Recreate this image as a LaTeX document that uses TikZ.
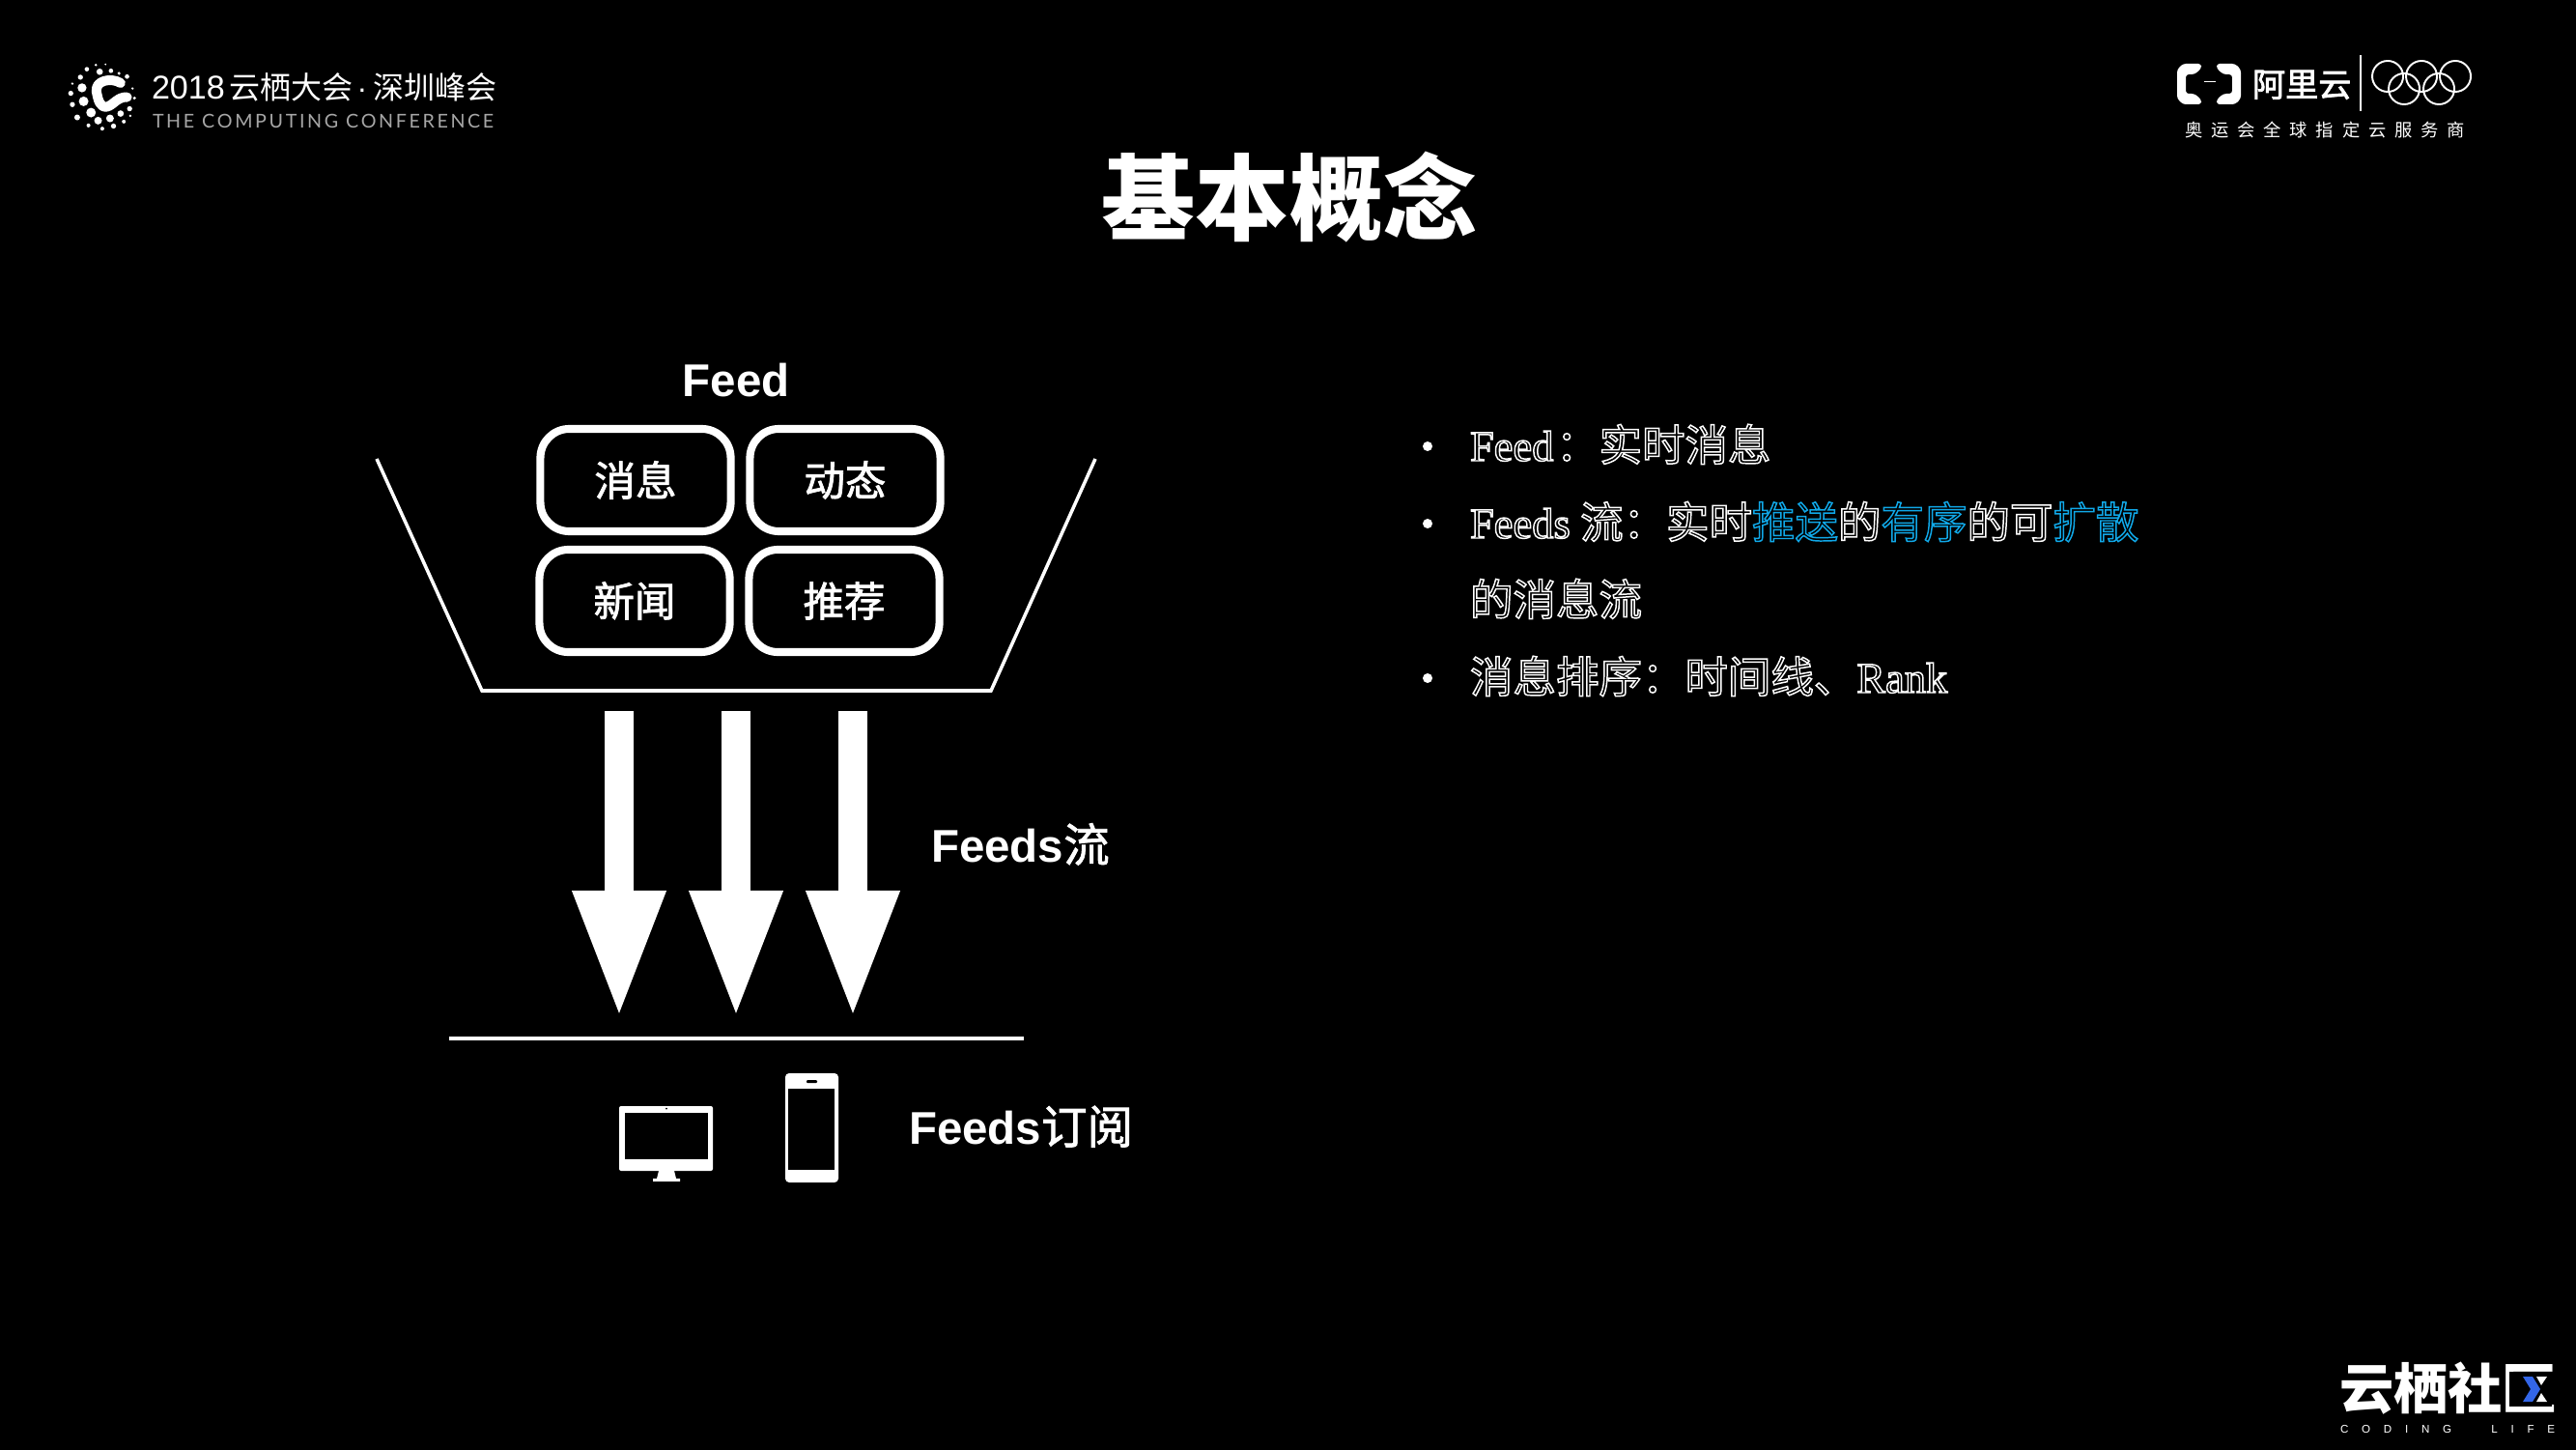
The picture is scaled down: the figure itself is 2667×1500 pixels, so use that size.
\documentclass[tikz,border=0pt]{standalone}
\usepackage{fontspec}
\usepackage{xcolor}
\usetikzlibrary{arrows.meta}
\setmainfont{Liberation Sans}
\newfontfamily\cjk{Noto Sans CJK SC}
\newfontfamily\serifl{Liberation Serif}
\newfontfamily\latol{Lato}
\definecolor{hl}{HTML}{10A8E8}
\definecolor{zblue}{HTML}{3366E8}
\newcommand\fs[1]{\fontsize{#1}{#1}\selectfont}
\newcommand\hollow{\special{pdf:code 1 Tr 0.42 w}}
\newcommand\heavy{\special{pdf:code 2 Tr 0.22 w}}
\newcommand\solid{\special{pdf:code 0 Tr 1 w}}
\tikzset{
  px/.style={x=0.01cm,y=-0.01cm},
  txt/.style={text=white,inner sep=0pt,outer sep=0pt},
  feedbox/.style={draw=white,line width=2.3pt,rounded corners=0.30cm,minimum width=1.97cm,minimum height=1.06cm,inner sep=0pt,text=white,font=\cjk\fs{12.1pt}},
  funnelline/.style={draw=white,line width=1pt},
  flow/.style={draw=white,line width=0.30cm,-{Triangle[length=1.33cm,width=0.88cm]}},
  bodyline/.style={txt,anchor=base west,font=\fs{12.65pt}},
  bul/.style={circle,fill=white,inner sep=0pt,minimum size=0.10cm},
  label/.style={txt,anchor=base west,font=\fs{13.5pt}\bfseries},
  ring/.style={draw=white,line width=0.55pt},
}
\begin{document}
\begin{tikzpicture}[px]
\useasboundingbox (0,0) rectangle (2667,1500);
\fill[black] (-20,-20) rectangle (2687,1520);

% conference logo
\begin{scope}[shift={(40,40)},x=0.00333cm,y=-0.00333cm]
\foreach \x/\y/\r in {150/95/7,190/103/10,225/100/7,250/108/5,275/118/7,178/82/4,208/80/3,130/120/8,105/140/4,135/153/14,100/170/8,140/195/15,105/205/8,120/245/9,163/230/15,155/270/6,185/255/12,222/248/12,198/280/6,233/272/8,255/233/10,265/258/6,283/218/8,285/240/4,298/185/5,292/155/4}
  \fill[white] (\x,\y) circle[radius=\r];
\draw[white,line width=0.10cm,line cap=round,line join=round] (255,138) .. controls (225,120) and (175,130) .. (180,165) .. controls (185,190) and (190,215) .. (212,212) .. controls (232,208) and (245,180) .. (275,182);
\end{scope}
\node[txt,anchor=base west,font=\fs{9.7pt}] (yr) at (157,103) {2018};
\node[txt,anchor=base west,font=\cjk\fs{9.1pt}] (conf) at (237,103) {云栖大会};
\node[txt,anchor=base,font=\fs{9.1pt}] (dot) at (375,103) {·};
\node[txt,anchor=base west,font=\cjk\fs{9.1pt}] (city) at (386,103) {深圳峰会};
\node[txt,anchor=base west,text=white!65!black,font=\latol\fs{5.6pt}] (eng) at (158,133) {\makebox[3.53cm][s]{T\hfill H\hfill E\hfill\hfill\hfill C\hfill O\hfill M\hfill P\hfill U\hfill T\hfill I\hfill N\hfill G\hfill\hfill\hfill C\hfill O\hfill N\hfill F\hfill E\hfill R\hfill E\hfill N\hfill C\hfill E}};

% aliyun logo
\fill[white,rounded corners=0.03cm] (2279,66) -- (2260,66) -- (2254,72) -- (2254,102) -- (2260,108) -- (2279,108) -- (2279,103) -- (2272,97) -- (2263,97) -- (2263,77) -- (2272,77) -- (2279,71) -- cycle;
\fill[white,rounded corners=0.03cm] (2295,66) -- (2314,66) -- (2320,72) -- (2320,102) -- (2314,108) -- (2295,108) -- (2295,103) -- (2302,97) -- (2311,97) -- (2311,77) -- (2302,77) -- (2295,71) -- cycle;
\fill[white] (2282,84.5) rectangle (2294,85.5);
\node[txt,anchor=base west,font=\cjk\fs{9.7pt}] (aly) at (2332,100) {\heavy 阿里云\solid};
\coordinate (dva) at (2444,57);
\coordinate (dvb) at (2444,115);
\draw[white,line width=0.4pt] (dva) -- (dvb);
\foreach \x/\y in {2472/79,2507/79,2542/79,2489/92,2525/92}
  \draw[ring] (\x,\y) circle[radius=16];
\node[txt,anchor=base west,font=\cjk\fs{5.2pt}] (spons) at (2262,142) {\makebox[2.90cm][s]{奥\hfill 运\hfill 会\hfill 全\hfill 球\hfill 指\hfill 定\hfill 云\hfill 服\hfill 务\hfill 商}};

% title
\node[txt,font=\cjk\fs{27.6pt}\bfseries] (title) at (1335,204) {基本概念};

% feed diagram
\node[label,anchor=base] (feed) at (762,410) {Feed};
\node[feedbox] (msg) at (658,497) {\heavy 消息\solid};
\node[feedbox] (dyn) at (875,497) {\heavy 动态\solid};
\node[feedbox] (news) at (657,622) {\heavy 新闻\solid};
\node[feedbox] (rec) at (874,622) {\heavy 推荐\solid};
\coordinate (fa) at (390,475);
\coordinate (fb) at (499,715);
\coordinate (fc) at (1026,715);
\coordinate (fd) at (1134,475);
\draw[funnelline] (fa) -- (fb) -- (fc) -- (fd);
\foreach \n/\x in {1/641,2/762,3/883}{
  \coordinate (s\n) at (\x,736);
  \coordinate (e\n) at (\x,1055);
  \draw[flow] (s\n) -- (e\n);
}
\coordinate (la) at (465,1075);
\coordinate (lb) at (1060,1075);
\draw[funnelline] (la) -- (lb);
\node[label] (flowlabel) at (964,892) {Feeds{\mdseries\cjk\heavy 流\solid}};
\node[label] (sublabel) at (941,1184) {Feeds{\mdseries\cjk\heavy 订阅\solid}};

% monitor
\fill[white,rounded corners=0.02cm] (641,1145) rectangle (738,1212);
\fill[black] (647,1152) rectangle (733,1200);
\fill[black] (690,1147.5) circle[radius=1];
\fill[white] (682,1212) -- (698,1212) -- (700,1220) -- (704,1220) -- (704,1223) -- (676,1223) -- (676,1220) -- (680,1220) -- cycle;
% phone
\fill[white,rounded corners=0.04cm] (813,1111) rectangle (868,1224);
\fill[black] (816,1127) rectangle (864,1211);
\fill[black,rounded corners=0.01cm] (835,1118) rectangle (846,1121);

% bullets
\node[bul] (b1) at (1478,462) {};
\node[bul] (b2) at (1478,542) {};
\node[bul] (b3) at (1478,702) {};
\node[bodyline] (l1) at (1522,477) {\hollow\makebox[0.89cm][l]{\serifl Feed}\cjk ：实时消息\solid};
\node[bodyline] (l2) at (1522,557) {\hollow\makebox[1.14cm][l]{\serifl Feeds}\cjk 流：实时{\color{hl}推送}的{\color{hl}有序}的可{\color{hl}扩散}\solid};
\node[bodyline] (l3) at (1522,637) {\hollow\cjk 的消息流\solid};
\node[bodyline] (l4) at (1522,717) {\hollow\cjk 消息排序：时间线、\serifl Rank\solid};

% community logo
\node[txt,anchor=base west,font=\cjk\fs{16pt}\bfseries] (comm) at (2422,1458) {云栖社区};
\fill[black] (2598,1420) rectangle (2642,1456);
\fill[zblue] (2612,1425) -- (2622,1425) -- (2630,1438) -- (2622,1451) -- (2612,1451) -- (2620,1438) -- cycle;
\fill[white] (2626,1425) -- (2637,1425) -- (2631,1434) -- cycle;
\fill[white] (2631,1442) -- (2637,1451) -- (2626,1451) -- cycle;
\node[txt,anchor=base west,font=\fs{3.3pt}] (cod) at (2423,1483) {\makebox[2.22cm][s]{C\hfill O\hfill D\hfill I\hfill N\hfill G\hfill\hfill\hfill L\hfill I\hfill F\hfill E}};
\end{tikzpicture}
\end{document}
